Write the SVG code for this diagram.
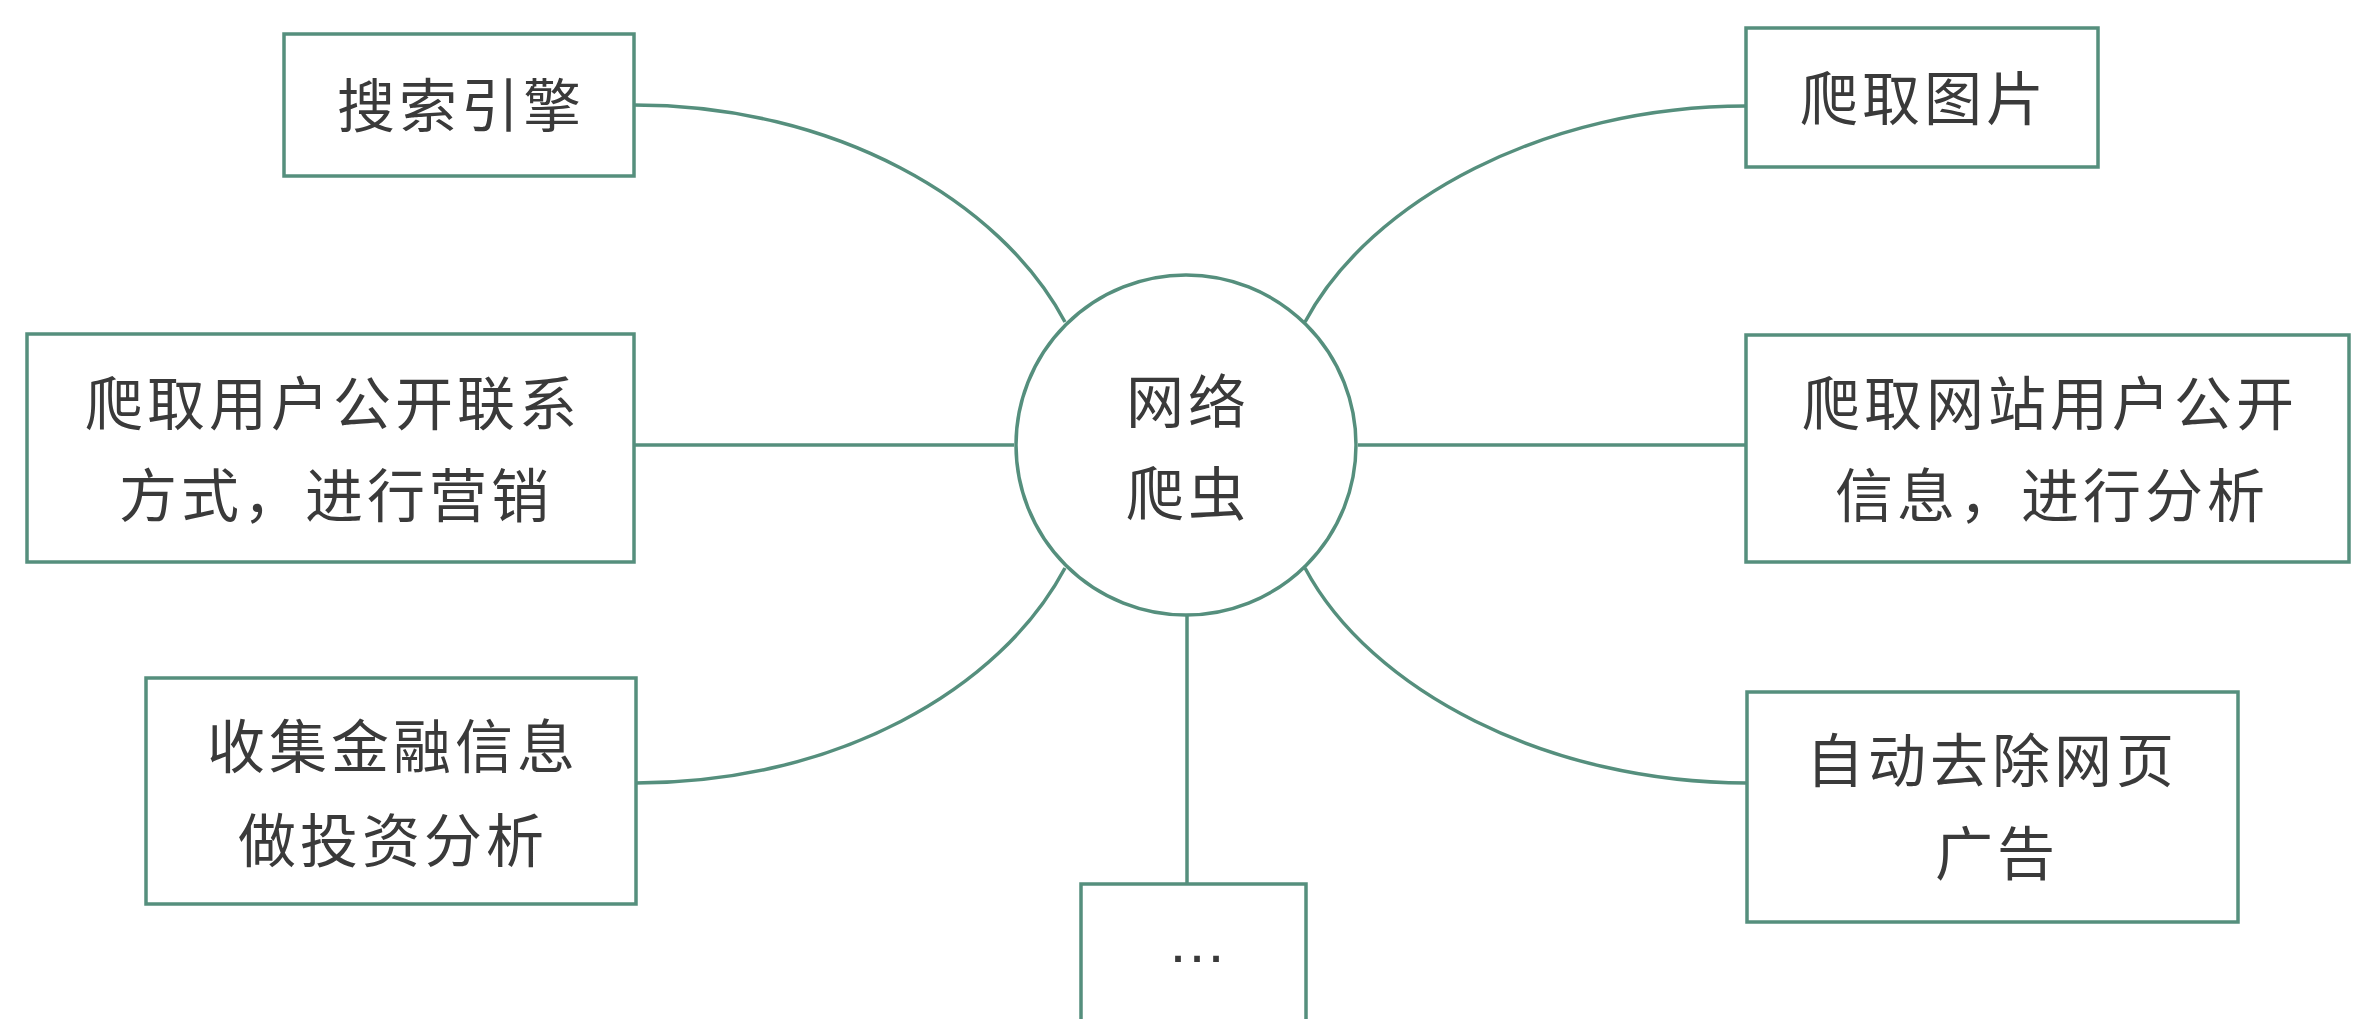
<svg xmlns="http://www.w3.org/2000/svg" width="2354" height="1019" viewBox="0 0 2354 1019">
  <style>
    .box { fill: #ffffff; stroke: #558f7d; stroke-width: 3.5; }
    .hub { fill: #ffffff; stroke: #558f7d; stroke-width: 3.5; }
    .link { fill: none; stroke: #558f7d; stroke-width: 3.5; }
    .lbl { font-family: "Noto Sans CJK SC", "Noto Sans", sans-serif; font-size: 58px; fill: #3a3a3a; text-anchor: middle; letter-spacing: 4px; }
    .dots { font-family: "Liberation Sans", sans-serif; font-size: 60px; fill: #3a3a3a; text-anchor: middle; }
  </style>
  <rect width="2354" height="1019" fill="#ffffff"/>

  <g id="connectors">
    <path class="link" d="M634,105 C834,105 1000,200 1065,322"/>
    <path class="link" d="M1746,106 C1546,106 1370,200 1305,322"/>
    <path class="link" d="M636,783 C836,783 1000,690 1065,568"/>
    <path class="link" d="M1747,783 C1547,783 1370,690 1305,568"/>
    <line class="link" x1="634" y1="445" x2="1014" y2="445"/>
    <line class="link" x1="1358" y1="445" x2="1746" y2="445"/>
    <line class="link" x1="1187" y1="615" x2="1187" y2="884"/>
  </g>

  <g id="hub">
    <circle class="hub" cx="1186" cy="445" r="170"/>
    <text class="lbl" x="1188" y="423">网络</text>
    <text class="lbl" x="1188" y="515">爬虫</text>
  </g>

  <g id="search-engine">
    <rect class="box" x="284" y="34" width="350" height="142"/>
    <text class="lbl" x="461" y="127">搜索引擎</text>
  </g>

  <g id="crawl-images">
    <rect class="box" x="1746" y="28" width="352" height="139"/>
    <text class="lbl" x="1924" y="120">爬取图片</text>
  </g>

  <g id="contact-marketing">
    <rect class="box" x="27" y="334" width="607" height="228"/>
    <text class="lbl" x="333" y="425">爬取用户公开联系</text>
    <text class="lbl" x="336" y="517">方式，进行营销</text>
  </g>

  <g id="user-info-analysis">
    <rect class="box" x="1746" y="335" width="603" height="227"/>
    <text class="lbl" x="2050" y="425">爬取网站用户公开</text>
    <text class="lbl" x="2052" y="517">信息，进行分析</text>
  </g>

  <g id="finance-info">
    <rect class="box" x="146" y="678" width="490" height="226"/>
    <text class="lbl" x="393" y="768">收集金融信息</text>
    <text class="lbl" x="393" y="862">做投资分析</text>
  </g>

  <g id="remove-ads">
    <rect class="box" x="1747" y="692" width="491" height="230"/>
    <text class="lbl" x="1992" y="782">自动去除网页</text>
    <text class="lbl" x="1997" y="875">广告</text>
  </g>

  <g id="more">
    <rect class="box" x="1081" y="884" width="225" height="150"/>
    <text class="dots" x="1197" y="962">…</text>
  </g>
</svg>
